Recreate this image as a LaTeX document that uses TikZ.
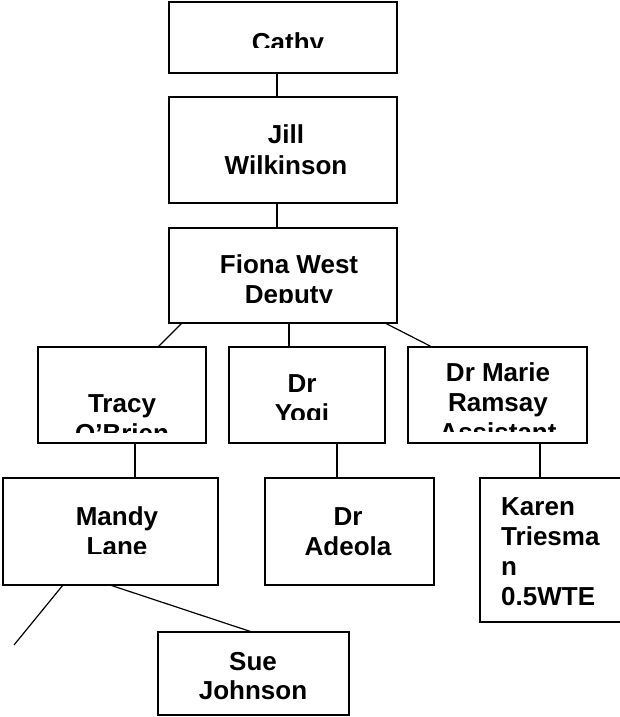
\documentclass[tikz,border=0pt]{standalone}
\usepackage{fontspec}
\setmainfont{Liberation Sans}
\begin{document}
\begin{tikzpicture}[x=1pt,y=-1pt,
  box/.style={draw=black, line width=1.3pt, rectangle, inner sep=0pt, outer sep=0pt, anchor=north west},
  link/.style={draw=black, line width=1.2pt},
  txt/.style={inner sep=0pt, anchor=base, font=\fontsize{26}{30}\selectfont\bfseries},
  ltxt/.style={inner sep=0pt, anchor=base west, font=\fontsize{26}{30}\selectfont\bfseries}]
\fill[white] (0,0) rectangle (620,717);
\useasboundingbox (0,0) rectangle (620,717);

% boxes
\node[box, minimum width=228pt, minimum height=71pt]  (cathy)  at (169,2)   {};
\node[box, minimum width=228pt, minimum height=106pt] (jill)   at (169,97)  {};
\node[box, minimum width=228pt, minimum height=95pt]  (fiona)  at (169,228) {};
\node[box, minimum width=168pt, minimum height=96pt]  (tracy)  at (38,347)  {};
\node[box, minimum width=156pt, minimum height=96pt]  (yogi)   at (229,347) {};
\node[box, minimum width=179pt, minimum height=96pt]  (marie)  at (408,347) {};
\node[box, minimum width=215pt, minimum height=107pt] (mandy)  at (3,478)   {};
\node[box, minimum width=169pt, minimum height=107pt] (adeola) at (265,478) {};
\node[box, minimum width=146pt, minimum height=144pt] (karen)  at (480,478) {};
\node[box, minimum width=191pt, minimum height=83pt]  (sue)    at (158,632) {};
\coordinate (loose) at (14,645);

% connectors
\draw[link] ([xshift=108pt]cathy.south west) -- ([xshift=108pt]jill.north west);
\draw[link] ([xshift=108pt]jill.south west) -- ([xshift=108pt]fiona.north west);
\draw[link] ([xshift=13pt]fiona.south west) -- ([xshift=120pt]tracy.north west);
\draw[link] ([xshift=120pt]fiona.south west) -- ([xshift=60pt]yogi.north west);
\draw[link] ([xshift=216pt]fiona.south west) -- ([xshift=24pt]marie.north west);
\draw[link] ([xshift=97pt]tracy.south west) -- ([xshift=132pt]mandy.north west);
\draw[link] ([xshift=108pt]yogi.south west) -- ([xshift=72pt]adeola.north west);
\draw[link] ([xshift=132pt]marie.south west) -- ([xshift=60pt]karen.north west);
\draw[link] ([xshift=60pt]mandy.south west) -- (loose);
\draw[link] ([xshift=107pt]mandy.south west) -- ([xshift=94pt]sue.north west);

% texts (clipped as in the reference)
\begin{scope}
\clip (169,2) rectangle (397,48);
\node[txt] (cathyA) at (288,52) {Cathy};
\end{scope}
\node[txt] (jillA) at (286,143) {Jill};
\node[txt] (jillB) at (286,174) {Wilkinson};
\begin{scope}
\clip (169,228) rectangle (397,302);
\node[txt] (fionaA) at (289,273) {Fiona West};
\node[txt] (fionaB) at (289,303) {Deputy};
\end{scope}
\begin{scope}
\clip (38,347) rectangle (206,432);
\node[txt] (tracyA) at (122,412) {Tracy};
\node[txt] (tracyB) at (122,442) {O’Brien};
\end{scope}
\begin{scope}
\clip (229,347) rectangle (385,419);
\node[txt] (yogiA) at (302,392) {Dr};
\node[txt] (yogiB) at (302,422) {Yogi};
\end{scope}
\begin{scope}
\clip (408,347) rectangle (587,431);
\node[txt] (marieA) at (498,381) {Dr Marie};
\node[txt] (marieB) at (498,411) {Ramsay};
\node[txt] (marieC) at (498,441) {Assistant};
\end{scope}
\begin{scope}
\clip (3,478) rectangle (218,553);
\node[txt] (mandyA) at (117,525) {Mandy};
\node[txt] (mandyB) at (117,555) {Lane};
\end{scope}
\node[txt] (adeolaA) at (348,525) {Dr};
\node[txt] (adeolaB) at (348,555) {Adeola};
\node[ltxt] (karenA) at (501,515) {Karen};
\node[ltxt] (karenB) at (501,545) {Triesma};
\node[ltxt] (karenC) at (501,575) {n};
\node[ltxt] (karenD) at (501,605) {0.5WTE};
\node[txt] (sueA) at (253,670) {Sue};
\node[txt] (sueB) at (253,699) {Johnson};
\end{tikzpicture}
\end{document}
